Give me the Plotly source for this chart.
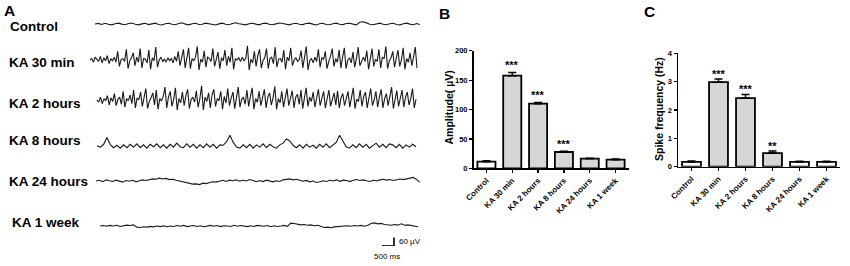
import numpy as np
import plotly.graph_objects as go

# ---------------- DATA ----------------
categories = ["Control", "KA 30 min", "KA 2 hours", "KA 8 hours", "KA 24 hours", "KA 1 week"]
amp_mean = [11.2, 157.5, 109.9, 27.7, 16.4, 14.7]
amp_err = [1.8, 5.5, 2.1, 1.3, 0.8, 1.3]
amp_sig = ["", "***", "***", "***", "", ""]
amp_ticks = [0, 50, 100, 150, 200]

freq_mean = [0.17, 2.98, 2.42, 0.48, 0.17, 0.17]
freq_err = [0.03, 0.11, 0.13, 0.07, 0.02, 0.02]
freq_sig = ["", "***", "***", "**", "", ""]
freq_ticks = [0, 1, 2, 3, 4]

trace_labels = ["Control", "KA 30 min", "KA 2 hours", "KA 8 hours", "KA 24 hours", "KA 1 week"]

control_uv = [0, 4, -3, 5, -2, -6, 2, 6, -1, -5, 3, 7, -2, -6, 1, 5, -4, 3, 6, -3, -7, 2, 5, -2, -5, 4,
              8, -1, -6, 2, 5, -3, -2, 6, 3, -5, -7, 1, 6, -2, -5, 3, 9, 2, -4, -6, 2, 5, -1, -6, 3, 6,
              -2, -5, 1, 7, 4, -3, -6, 2, 5, -2, -4, 3, 6, -1, -7, 2, 5, -3, -5, 2, 6, -2, -4, 3, 5,
              -1, -6, 12, 16, 8, -2, -5, 3, 6, -2, -5, 2, 5, -3, -6, 2, 6, -1, -5, 3, -4]
ka30_uv = [0, 10, -15, 20, 5, -10, 25, -20, 15, -5, 30, -25, 10, -5, 20, -15, 60, -45, 5, 10,
           -10, 75, -60, -5, 15, 50, -40, 20, -15, 80, -55, 10, 5, -20, 70, -65, 15, -5, 90, -50,
           0, 20, -10, 5, -15, 15, -5, 10, -20, 25, -10, 60, -40, 15, 75, -55, 5, 85, -60, 10,
           -5, 20, 95, -70, 5, -15, 65, -50, 20, 10, -10, 80, -45, 0, 55, -60, 15, -5, 70, -40,
           25, -15, 85, -65, 10, 0, 15, -10, 20, -5, 10, 100, -70, 5, -20, 60, -45, 30, 75, -55,
           -5, 15, 80, -60, 10, 20, -25, 90, -50, 5, 10, -15, 70, -65, 20, -5, 85, -40, 0, 15,
           -10, 5, 65, -55, 30, 95, -70, -5, 10, -20, 20, -10, 75, -50, 15, 5, 60, -60, -10, 25,
           80, -45, 10, -15, 70, -55, 20, 85, -60, 0, 15, -20, 55, -50, 10, 90, -40, -5, 20, -10,
           65, -65, 15, 80, -45, 5, -10, 75, -55, 20, 10, 95, -60, -5, 15, 60, -50, 25, 70, -45,
           0, 85, -65, 10, -15, 50, -40, 20, 90, -55]
ka2h_uv = [0, -15, 20, -25, 10, -5, 30, -35, 15, -10, 45, -40, 5, 20, -30, 60, -50, 10, -5, 35,
           -25, 70, -55, 15, 0, 55, -45, 20, 80, -60, -10, 15, 50, -35, 70, -65, 10, -5, 25, 90,
           -55, 20, 60, -45, 5, 85, -70, 10, -20, 55, -40, 30, 75, -60, 5, 20, -15, 65, -50, 10,
           100, -70, 20, -10, 50, -55, 35, 75, -45, 10, -5, 60, -65, 25, -20, 80, -40, 15, 55, -60,
           35, 90, -50, 5, 20, -30, 70, -45, 25, 85, -65, 10, -15, 60, -40, 30, 75, -55, 20, 50,
           -35, 15, 95, -65, 10, -20, 60, -50, 25, 80, -40, 5, 65, -55, 20, 40, -30, 70, -60, 15,
           85, -45, 20, -10, 55, -50, 25, 75, -40, 10, 60, -55, 20, 70, -45, 5, 50, -35, 65, -55,
           15, 45, -40, 10, 60, -50, 20, 85, -60, 5, -10, 70, -45, 25, 55, -55, 15, 80, -40, 0,
           60, -50, 20, 75, -55, 10, 45, -40, 25, 90, -60, 5, 65, -45, 15, 70, -50, 20, 55, -35,
           10, 80, -55, 5]
ka8h_uv = [0, -8, 12, 60, 10, -12, 5, -15, 8, -12, 12, -8, 15, -12, 8, -15, 12, -5, 15, -12, 8, -15,
           12, -8, 20, -5, -12, 15, -8, 12, -15, 8, -12, 15, -8, 12, -15, 8, 5, 30, 75, 25, -8, -15,
           8, -12, 12, -15, 8, -8, 15, -12, 12, -5, -15, 8, 20, 50, 35, 5, -12, 8, -15, 12, -8, 5,
           -15, 12, -8, 15, -12, 8, 25, 75, 30, -5, -15, 8, -12, 15, -8, 12, -15, 5, 20, -8, 12, -12,
           15, 8, -12, 12, -15, 8, -8, 12, -5]
ka24h_uv = [0, 5, -5, 8, 2, -3, 6, 0, -8, 3, -2, 5, -6, 2, 8, 4, 10, 15, 12, 20, 14, 18, 10, 12, 5, 0, -5,
            -12, -18, -22, -20, -25, -15, -18, -10, -5, -8, 0, 5, -3, 6, 2, 8, -2, 5, 0, 10, 4, -5, 3, -4,
            6, 0, -6, 2, -3, 8, 10, 15, 8, 12, 5, -2, 4, -6, 0, -10, -5, 2, -3, 5, 0, 8, -2, 6, 3, -4, 5,
            10, 4, 8, 2, -3, 5, 0, 8, 12, 6, 10, 4, 8, 14, 10, 15, 20, 25, 10, -10]
ka1w_uv = [0, 3, -2, 4, 0, 5, -3, 2, 6, 4, 8, -8, -10, -5, -8, -3, -6, 0, -4, 2, -5, 0, -3, 3, -2, 4, -4,
           0, 3, -3, 2, -5, 0, 4, -2, 3, -4, 2, 0, -3, 5, -2, 3, 0, -4, 2, -3, 4, 0, -2, 3, -5, 2, -3, 0,
           4, -2, 20, 18, 12, 8, 10, 5, 8, 2, 5, -5, -10, -8, -12, -6, -4, 0, -3, 2, -2, 3, 0, 4, -2, 5,
           18, 22, 15, 18, 10, 8, 5, 10, 6, 15, 5, 8, 2, -2, -5]
traces_uv = [control_uv, ka30_uv, ka2h_uv, ka8h_uv, ka24h_uv, ka1w_uv]

scale_uv = 60
scale_ms = 500

# ---------------- LAYOUT HELPERS ----------------
W, H = 850, 266
FONT = "Arial, Liberation Sans, sans-serif"


def px(x):
    return x / W


def py(y):
    return 1 - y / H


A_X0, A_X1 = 90, 420
A_MS = 13750
ms_per_px = A_MS / (A_X1 - A_X0)
trace_center_px = [24, 60, 100, 146, 181, 226]
trace_extent_px = [(95, 420), (90, 417), (97, 416), (97, 416), (96, 420), (100, 418)]
label_pos_px = [(8, 27), (7, 63), (7, 103), (7, 140), (7, 181), (10, 222)]
UV_HALF = 140
HALF_PX = 20

fig = go.Figure()
layout = dict(
    template="none",
    width=W, height=H, autosize=False, margin=dict(l=0, r=0, t=0, b=0, pad=0, autoexpand=False),
    paper_bgcolor="white", plot_bgcolor="rgba(0,0,0,0)", showlegend=False,
    font=dict(family=FONT, color="black"),
    xaxis=dict(domain=[px(A_X0), px(A_X1)], range=[0, A_MS], visible=False, fixedrange=True,
               automargin=False),
)

for i, vals in enumerate(traces_uv):
    ax = "y" if i == 0 else f"y{i + 1}"
    key = "yaxis" if i == 0 else f"yaxis{i + 1}"
    c = trace_center_px[i]
    layout[key] = dict(domain=[py(c + HALF_PX), py(c - HALF_PX)], range=[-UV_HALF, UV_HALF],
                       visible=False, anchor="x", fixedrange=True, automargin=False)
    x0, x1 = trace_extent_px[i]
    t = np.linspace((x0 - A_X0) * ms_per_px, (x1 - A_X0) * ms_per_px, len(vals))
    fig.add_trace(go.Scatter(x=t, y=vals, mode="lines", xaxis="x", yaxis=ax,
                             line=dict(color="#1a1a1a", width=1.1), hoverinfo="skip"))

B_DOM = (473.5, 628.5)
B_Y = (168.3, 50.7)
C_DOM = (678, 840)
C_Y = (166.7, 53.3)

fill_b = ["white", "#d6d6d6", "#d6d6d6", "#d6d6d6", "#d6d6d6", "#d6d6d6"]
fill_c = ["white", "#d6d6d6", "#d6d6d6", "#d6d6d6", "white", "white"]

fig.add_trace(go.Bar(x=categories, y=amp_mean, xaxis="x2", yaxis="y7",
                     marker=dict(color=fill_b, line=dict(color="black", width=1.8)),
                     error_y=dict(type="data", symmetric=False, array=amp_err,
                                  arrayminus=[0] * len(amp_err), color="black", thickness=1.5, width=4),
                     hoverinfo="skip"))
fig.add_trace(go.Bar(x=categories, y=freq_mean, xaxis="x3", yaxis="y8",
                     marker=dict(color=fill_c, line=dict(color="black", width=1.8)),
                     error_y=dict(type="data", symmetric=False, array=freq_err,
                                  arrayminus=[0] * len(freq_err), color="black", thickness=1.5, width=4),
                     hoverinfo="skip"))

tickfont_x = dict(family=FONT, size=8, color="black", weight="bold")
tickfont_y = dict(family=FONT, size=7.5, color="black", weight="bold")
title_font = dict(family=FONT, size=10.5, color="black", weight="bold")

for xk, yk, dom, ydom, rng, ticks, ya in [
    ("xaxis2", "yaxis7", B_DOM, B_Y, [0, 200], amp_ticks, "y7"),
    ("xaxis3", "yaxis8", C_DOM, C_Y, [0, 4], freq_ticks, "y8"),
]:
    layout[xk] = dict(domain=[px(dom[0]), px(dom[1])], anchor=ya, type="category",
                      showline=True, linecolor="black", linewidth=1.5, ticks="outside",
                      ticklen=3, tickwidth=1.2, tickcolor="black", tickangle=-45,
                      tickfont=tickfont_x, showgrid=False, zeroline=False, fixedrange=True,
                      automargin=False)
    layout[yk] = dict(domain=[py(ydom[0]), py(ydom[1])], anchor=xk.replace("axis", ""),
                      range=rng, tickvals=ticks, showline=True, linecolor="black", linewidth=1.5,
                      ticks="outside", ticklen=3, tickwidth=1.2, tickcolor="black",
                      tickfont=tickfont_y, showgrid=False, zeroline=False, fixedrange=True,
                      automargin=False)

layout["bargap"] = 0.3

annotations = []
# y-axis titles (placed as rotated text beside the axes)
for title, (tx, ty) in [("Amplitude( µV)", (448, 107.5)), ("Spike frequency (Hz)", (659, 109))]:
    annotations.append(dict(text=title, x=px(tx), y=py(ty), xref="paper", yref="paper",
                            xanchor="center", yanchor="middle", textangle=-90, showarrow=False,
                            font=title_font))
for letter, (lx, ly) in zip(["A", "B", "C"], [(2, 0), (437, 3), (642, 1)]):
    annotations.append(dict(text=letter, x=px(lx), y=py(ly), xref="paper", yref="paper",
                            xanchor="left", yanchor="top", showarrow=False,
                            font=dict(family=FONT, size=15.5, color="black", weight="bold")))
for lab, (lx, ly) in zip(trace_labels, label_pos_px):
    annotations.append(dict(text=lab, x=px(lx), y=py(ly), xref="paper", yref="paper",
                            xanchor="left", yanchor="middle", showarrow=False,
                            font=dict(family=FONT, size=13.5, color="black", weight="bold")))
for cat, m, e, s in zip(categories, amp_mean, amp_err, amp_sig):
    if s:
        annotations.append(dict(text=s, x=cat, y=m + e, xref="x2", yref="y7", yanchor="bottom",
                                showarrow=False, yshift=-1,
                                font=dict(family=FONT, size=11, color="black", weight="bold")))
for cat, m, e, s in zip(categories, freq_mean, freq_err, freq_sig):
    if s:
        annotations.append(dict(text=s, x=cat, y=m + e, xref="x3", yref="y8", yanchor="bottom",
                                showarrow=False, yshift=-3,
                                font=dict(family=FONT, size=11, color="black", weight="bold")))

bar_x1 = (394 - A_X0) * ms_per_px
bar_x0 = bar_x1 - scale_ms
bar_y0 = -UV_HALF
shapes = [
    dict(type="line", xref="x", yref="y6", x0=bar_x0, x1=bar_x1, y0=bar_y0, y1=bar_y0,
         line=dict(color="black", width=1.6)),
    dict(type="line", xref="x", yref="y6", x0=bar_x1, x1=bar_x1, y0=bar_y0, y1=bar_y0 + scale_uv,
         line=dict(color="black", width=1.6)),
]
annotations.append(dict(text=f"{scale_uv} µV", x=bar_x1 + 3 * ms_per_px, y=bar_y0 + scale_uv / 2,
                        xref="x", yref="y6", xanchor="left", yanchor="middle", showarrow=False,
                        font=dict(family=FONT, size=8, color="black")))
annotations.append(dict(text=f"{scale_ms} ms", x=(bar_x0 + bar_x1) / 2 - 1 * ms_per_px, y=py(256),
                        xref="x", yref="paper", xanchor="center", yanchor="middle", showarrow=False,
                        font=dict(family=FONT, size=8, color="black")))

layout["annotations"] = annotations
layout["shapes"] = shapes
fig.update_layout(**layout)
fig.write_html("out.html", config={"displayModeBar": False, "staticPlot": True},
               post_script="document.body.style.margin='0px';")
